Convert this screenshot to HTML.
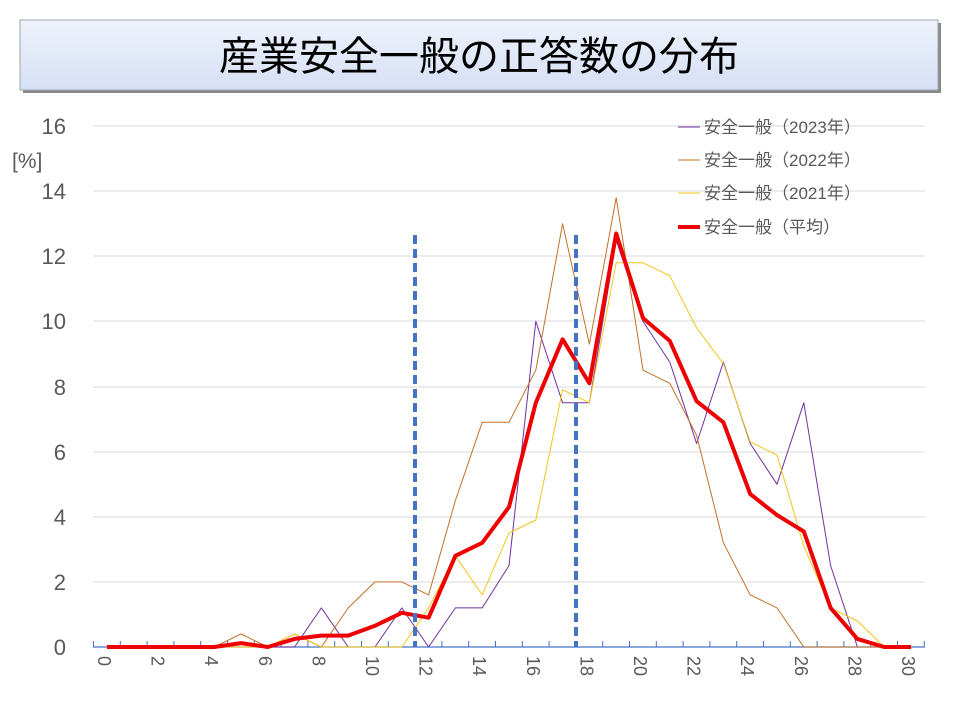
<!DOCTYPE html>
<html><head><meta charset="utf-8"><style>
body{margin:0;background:#fff;width:960px;height:720px;overflow:hidden}
</style></head><body>
<svg width="960" height="720" xmlns="http://www.w3.org/2000/svg" font-family="Liberation Sans, Noto Sans CJK JP, sans-serif">
<defs>
<linearGradient id="g" x1="0" y1="0" x2="0" y2="1">
<stop offset="0" stop-color="#eef2fb"/><stop offset="1" stop-color="#d6e0f5"/></linearGradient>
</defs>
<rect x="23" y="23" width="918" height="70" fill="#888"/>
<rect x="20" y="20" width="918" height="70" fill="url(#g)" stroke="#9aa" stroke-width="1"/>
<text x="479" y="70" text-anchor="middle" font-size="40" fill="#000" font-family="Noto Sans CJK JP, sans-serif">産業安全一般の正答数の分布</text>
<g stroke="#d9d9d9" stroke-width="1">
<line x1="93" y1="126" x2="925" y2="126"/><line x1="93" y1="191" x2="925" y2="191"/>
<line x1="93" y1="256" x2="925" y2="256"/><line x1="93" y1="321" x2="925" y2="321"/>
<line x1="93" y1="387" x2="925" y2="387"/><line x1="93" y1="452" x2="925" y2="452"/>
<line x1="93" y1="517" x2="925" y2="517"/><line x1="93" y1="582" x2="925" y2="582"/>
</g>
<line x1="93" y1="647" x2="925" y2="647" stroke="#4472c4" stroke-width="1.2"/>
<g fill="#595959" font-size="22" text-anchor="end">
<text x="66" y="134">16</text><text x="66" y="199">14</text><text x="66" y="264">12</text>
<text x="66" y="329">10</text><text x="66" y="395">8</text><text x="66" y="460">6</text>
<text x="66" y="525">4</text><text x="66" y="590">2</text><text x="66" y="655">0</text>
</g>
<text x="12" y="168" fill="#595959" font-size="21">[%]</text>
<g id="xl" fill="#595959" font-size="18"></g>
<g id="ticks" stroke="#4472c4" stroke-width="1"></g>
<g fill="none" stroke-linejoin="round">
<polyline id="p23" stroke="#7030a0" stroke-width="1"/>
<polyline id="p22" stroke="#c0702a" stroke-width="1"/>
<polyline id="p21" stroke="#f5c518" stroke-width="1"/>
<polyline id="pav" stroke="#ee0000" stroke-width="4"/>
</g>
<g stroke="#4472c4" stroke-width="4" stroke-dasharray="9,5">
<line x1="415" y1="235" x2="415" y2="647"/><line x1="576" y1="235" x2="576" y2="647"/>
</g>
<g font-size="17" fill="#595959" font-family="Liberation Sans, Noto Sans CJK JP, sans-serif">
<line x1="678" y1="127" x2="700" y2="127" stroke="#7030a0" stroke-width="1"/><text x="704" y="133">安全一般（2023年）</text>
<line x1="678" y1="160" x2="700" y2="160" stroke="#c0702a" stroke-width="1"/><text x="704" y="166">安全一般（2022年）</text>
<line x1="678" y1="193" x2="700" y2="193" stroke="#f5c518" stroke-width="1"/><text x="704" y="199">安全一般（2021年）</text>
<line x1="678" y1="227" x2="700" y2="227" stroke="#ee0000" stroke-width="4"/><text x="704" y="233">安全一般（平均）</text>
</g>
</svg>
<script>
const X=i=>107+26.8*i, Y=v=>647-32.56*v;
const d={
p23:[0,0,0,0,0,0,0,0,1.2,0,0,1.2,0,1.2,1.2,2.5,10,7.5,7.5,12.5,10,8.75,6.25,8.75,6.25,5,7.5,2.5,0,0,0],
p22:[0,0,0,0,0,0.4,0,0.4,0,1.2,2,2,1.6,4.5,6.9,6.9,8.5,13,9.3,13.8,8.5,8.1,6.5,3.2,1.6,1.2,0,0,0,0,0],
p21:[0,0,0,0,0,0,0,0.4,0,0,0,0,1.2,2.8,1.6,3.5,3.9,7.9,7.5,11.8,11.8,11.4,9.8,8.7,6.3,5.9,3.1,1.2,0.8,0,0],
pav:[0,0,0,0,0,0.12,0,0.25,0.35,0.35,0.65,1.05,0.9,2.8,3.2,4.3,7.5,9.45,8.1,12.7,10.1,9.4,7.55,6.9,4.7,4.05,3.55,1.2,0.25,0,0]};
for(const k in d)document.getElementById(k).setAttribute('points',d[k].map((v,i)=>X(i).toFixed(1)+','+Y(v).toFixed(1)).join(' '));
const ns='http://www.w3.org/2000/svg';
let xl=document.getElementById('xl'),tk=document.getElementById('ticks');
for(let i=0;i<=31;i++){let l=document.createElementNS(ns,'line');let x=93.5+26.8*i;l.setAttribute('x1',x);l.setAttribute('x2',x);l.setAttribute('y1',641);l.setAttribute('y2',647);tk.appendChild(l);}
for(let i=0;i<=30;i+=2){let t=document.createElementNS(ns,'text');t.setAttribute('transform',`translate(${X(i)-9},656) rotate(90)`);t.textContent=i;xl.appendChild(t);}
</script>
</body></html>
